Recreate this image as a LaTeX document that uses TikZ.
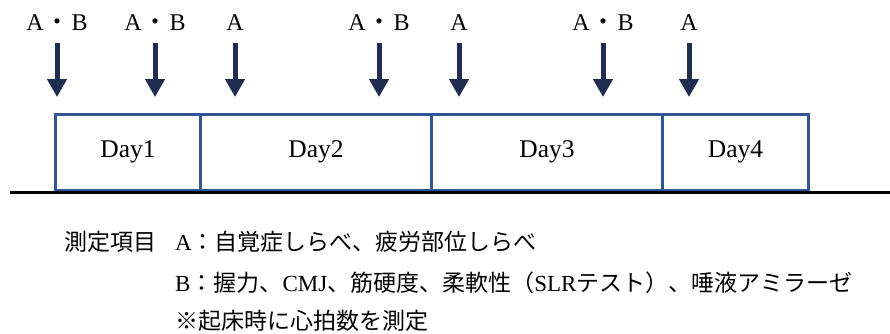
\documentclass[tikz,border=0pt]{standalone}
\usepackage{fontspec}
\setmainfont{Liberation Serif}
\newfontfamily\jp{Noto Sans CJK JP}
\usetikzlibrary{arrows.meta}
\definecolor{navy}{HTML}{1F2D50}
\definecolor{boxblue}{HTML}{2F5597}
\definecolor{baseline}{HTML}{1F2D50}
\tikzset{
  daybox/.style={draw=boxblue, line width=3pt, minimum height=76.5pt, inner sep=0pt, font=\fontsize{25.5}{25.5}\selectfont, anchor=south west},
  lab/.style={font=\fontsize{24}{24}\selectfont, inner sep=0pt},
  downarrow/.style={draw=navy, line width=5pt, -{Triangle[width=19pt,length=18pt]}},
  jtext/.style={font=\fontsize{23}{23}\selectfont, inner sep=0pt, anchor=west}
}
\newcommand{\jdot}{{\jp ・}}
\begin{document}
\begin{tikzpicture}[x=1pt,y=-1pt]
\useasboundingbox (0,0) rectangle (890,333);
% day boxes
\node[daybox, minimum width=145pt] (d1) at (54,192) {Day1};
\node[daybox, minimum width=231pt] (d2) at (199,192) {Day2};
\node[daybox, minimum width=231pt] (d3) at (430,192) {Day3};
\node[daybox, minimum width=146pt] (d4) at (661,192) {Day4};
% baseline
\coordinate (bl) at (10,192);
\coordinate (br) at (890,192);
\draw[baseline, line width=3pt] (bl) -- (br);
% labels and arrows
\foreach \i/\x/\t in {1/57/{A\kern2pt\jdot\kern2pt B},2/155/{A\kern2pt\jdot\kern2pt B},3/235/{A},4/379/{A\kern2pt\jdot\kern2pt B},5/459/{A},6/603/{A\kern2pt\jdot\kern2pt B},7/689/{A}}{
  \node[lab] (l\i) at (\x,23) {\t};
  \coordinate (s\i) at (\x,43);
  \coordinate (e\i) at (\x,97);
  \draw[downarrow] (s\i) -- (e\i);
}
% legend
\node[jtext] (t0) at (64,242) {\jp 測定項目};
\node[jtext] (t1) at (175,242) {A{\jp ：自覚症しらべ、疲労部位しらべ}};
\node[jtext] (t2) at (175,283) {B{\jp ：握力、}CMJ{\jp 、筋硬度、柔軟性（}SLR{\jp テスト）、唾液アミラーゼ}};
\node[jtext] (t3) at (175,321) {\jp ※起床時に心拍数を測定};
\end{tikzpicture}
\end{document}
